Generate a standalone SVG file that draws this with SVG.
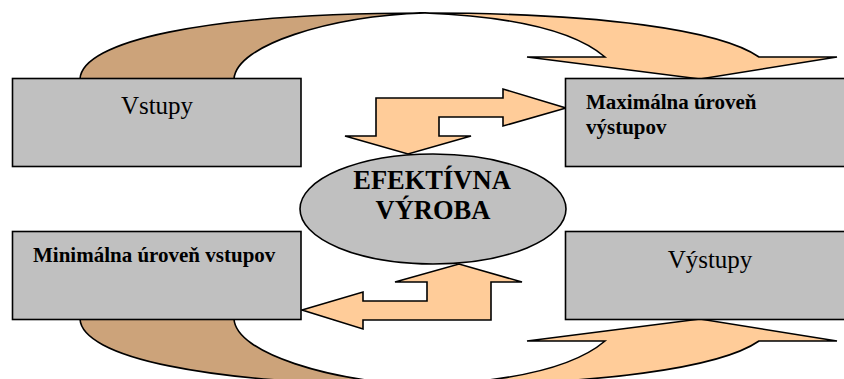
<svg xmlns="http://www.w3.org/2000/svg" width="844" height="379" viewBox="0 0 844 379">
<style>
.box{fill:#C0C0C0;stroke:#000;stroke-width:1.6}
.or{fill:#FFCC99;stroke:#000;stroke-width:1.6;stroke-linejoin:miter}
.br{fill:#CCA37A;stroke:#000;stroke-width:1.6}
.reg{font-family:'Liberation Serif','Times New Roman',serif;font-size:25px;fill:#000}
.bld{font-family:'Liberation Serif','Times New Roman',serif;font-size:21px;font-weight:bold;fill:#000}
.big{font-family:'Liberation Serif','Times New Roman',serif;font-size:26.5px;font-weight:bold;fill:#000}
</style>
<rect width="844" height="379" fill="#fff"/>
<g id="connectors">
  <g id="arc-top">
    <path class="br" d="M80,79 C82,42 200,13 425,13 C330,16 236,45 234,79 Z"/>
    <path class="or" d="M425,13 C600,13 720,30 759,57 L837,57 L700,79 L527,57 L605,57 C570,27 500,16 425,13 Z"/>
  </g>
  <g id="arc-bottom">
    <path class="br" d="M80,319 C82,356 200,385 425,385 C330,382 236,353 234,319 Z"/>
    <path class="or" d="M425,385 C600,385 720,368 759,341 L837,341 L700,319 L527,341 L605,341 C570,371 500,382 425,385 Z"/>
  </g>
  <polygon id="bent-top" class="or" points="376,98 503,98 503,89 566,108 503,126 503,117 439,117 439,136 471,136 408,154 345,136 376,136"/>
  <polygon id="bent-bottom" class="or" points="302,310 363,292 363,301 427,301 427,282 395,282 459,264 522,282 491,282 491,320 363,320 363,329"/>
</g>
<g id="vstupy">
  <rect class="box" x="12.5" y="78.5" width="288.5" height="88"/>
  <text class="reg" x="157" y="114" text-anchor="middle">Vstupy</text>
</g>
<g id="maximalna">
  <rect class="box" x="565.5" y="78.5" width="300" height="88"/>
  <text class="bld" x="586" y="109">Maximálna úroveň</text>
  <text class="bld" x="586" y="134">výstupov</text>
</g>
<g id="minimalna">
  <rect class="box" x="12.5" y="231.5" width="288.5" height="88"/>
  <text class="bld" x="33" y="262">Minimálna úroveň vstupov</text>
</g>
<g id="vystupy">
  <rect class="box" x="565.5" y="231.5" width="300" height="88"/>
  <text class="reg" x="710" y="268" text-anchor="middle">Výstupy</text>
</g>
<g id="efektivna">
  <ellipse class="box" cx="433" cy="209" rx="133" ry="55"/>
  <text class="big" x="432" y="189" text-anchor="middle">EFEKTÍVNA</text>
  <text class="big" x="433" y="219" text-anchor="middle">VÝROBA</text>
</g>
</svg>
